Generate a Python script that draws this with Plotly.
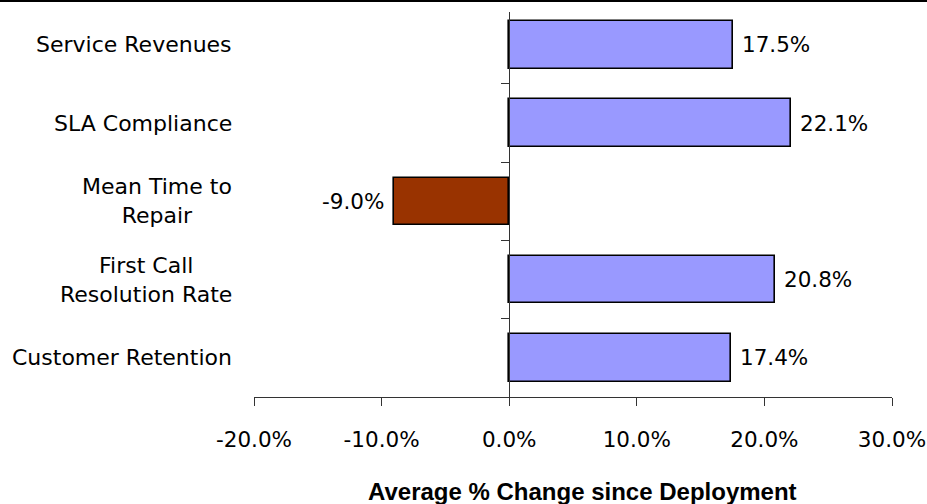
import plotly.graph_objects as go

# Chart data (listed top to bottom)
categories = [
    "Service Revenues",
    "SLA Compliance",
    "Mean Time to<br>Repair",
    "First Call<br>Resolution Rate",
    "Customer Retention",
]
pct_change = [17.5, 22.1, -9.0, 20.8, 17.4]
x_ticks = [-20, -10, 0, 10, 20, 30]
x_tick_labels = [f"{v:.1f}%" for v in x_ticks]
axis_title = "Average % Change since Deployment"

# Page geometry
W, H = 927, 504
PLOT_X0, PLOT_X1 = 254, 892
PLOT_Y0, PLOT_Y1 = 12, 397
M_L, M_R, M_T, M_B = PLOT_X0, W - PLOT_X1, PLOT_Y0, H - PLOT_Y1
PW, PH = PLOT_X1 - PLOT_X0, PLOT_Y1 - PLOT_Y0

POS_COLOR = "#9999FF"
NEG_COLOR = "#993300"
FONT = "DejaVu Sans"
FS = 21.5

n = len(categories)
ypos = [n - 1 - i for i in range(n)]
x_range = [x_ticks[0], x_ticks[-1]]
y_range = [-0.5, n - 1 + 0.42]
zero_frac = (0 - x_range[0]) / (x_range[1] - x_range[0])

fig = go.Figure()
fig.add_trace(go.Bar(
    x=pct_change,
    y=ypos,
    orientation="h",
    width=0.61,
    marker=dict(
        color=[POS_COLOR if v >= 0 else NEG_COLOR for v in pct_change],
        line=dict(color="black", width=1.6),
    ),
    hoverinfo="skip",
    showlegend=False,
))
# carrier trace for the category axis drawn at x = 0
fig.add_trace(go.Scatter(x=[None], y=[None], yaxis="y2", showlegend=False, hoverinfo="skip"))

annotations = []
# value labels beside each bar
for v, y in zip(pct_change, ypos):
    annotations.append(dict(
        x=v, y=y, xref="x", yref="y",
        text=f"{v:.1f}%",
        showarrow=False,
        xanchor="left" if v >= 0 else "right",
        xshift=7 if v >= 0 else -8,
        font=dict(family=FONT, size=FS, color="black"),
    ))
# category labels on the far left
for c, y in zip(categories, ypos):
    annotations.append(dict(
        x=0, y=y, xref="paper", yref="y",
        text=c, showarrow=False,
        xanchor="right", align="center", xshift=-20,
        font=dict(family=FONT, size=22, color="black"),
    ))
# axis title
annotations.append(dict(
    x=(582 - M_L) / PW, y=-(491 - PLOT_Y1) / PH,
    xref="paper", yref="paper",
    text=f"<b>{axis_title}</b>", showarrow=False,
    xanchor="center", yanchor="middle",
    font=dict(family="Liberation Sans", size=24, color="black"),
))

fig.update_layout(
    width=W, height=H,
    autosize=False,
    margin=dict(l=M_L, r=M_R, t=M_T, b=M_B, pad=0, autoexpand=False),
    paper_bgcolor="white", plot_bgcolor="white",
    bargap=0,
    xaxis=dict(
        range=x_range, tickvals=x_ticks, ticktext=x_tick_labels,
        ticks="outside", ticklen=8, tickcolor="#333", tickwidth=1,
        showline=True, linecolor="#333", linewidth=1,
        showgrid=False, zeroline=False,
        tickfont=dict(family=FONT, size=FS, color="black"),
        ticklabelstandoff=15,
        automargin=False,
        fixedrange=True,
    ),
    yaxis=dict(
        range=y_range, showticklabels=False, ticks="", showline=False,
        showgrid=False, zeroline=False, fixedrange=True, automargin=False,
    ),
    yaxis2=dict(
        range=y_range, overlaying="y", anchor="free", position=zero_frac,
        side="left",
        tickvals=[i + 0.5 for i in range(n - 1)],
        ticks="outside", ticklen=8, tickcolor="#333", tickwidth=1,
        showticklabels=False,
        showline=True, linecolor="#333", linewidth=1,
        showgrid=False, zeroline=False, fixedrange=True, automargin=False,
    ),
    annotations=annotations,
    shapes=[dict(
        type="line", xref="paper", yref="paper",
        x0=-M_L / PW, x1=(W - M_L) / PW,
        y0=1 + (M_T - 1) / PH, y1=1 + (M_T - 1) / PH,
        line=dict(color="black", width=2),
    )],
)

fig.write_html("out.html", config={"responsive": False, "displayModeBar": False})
